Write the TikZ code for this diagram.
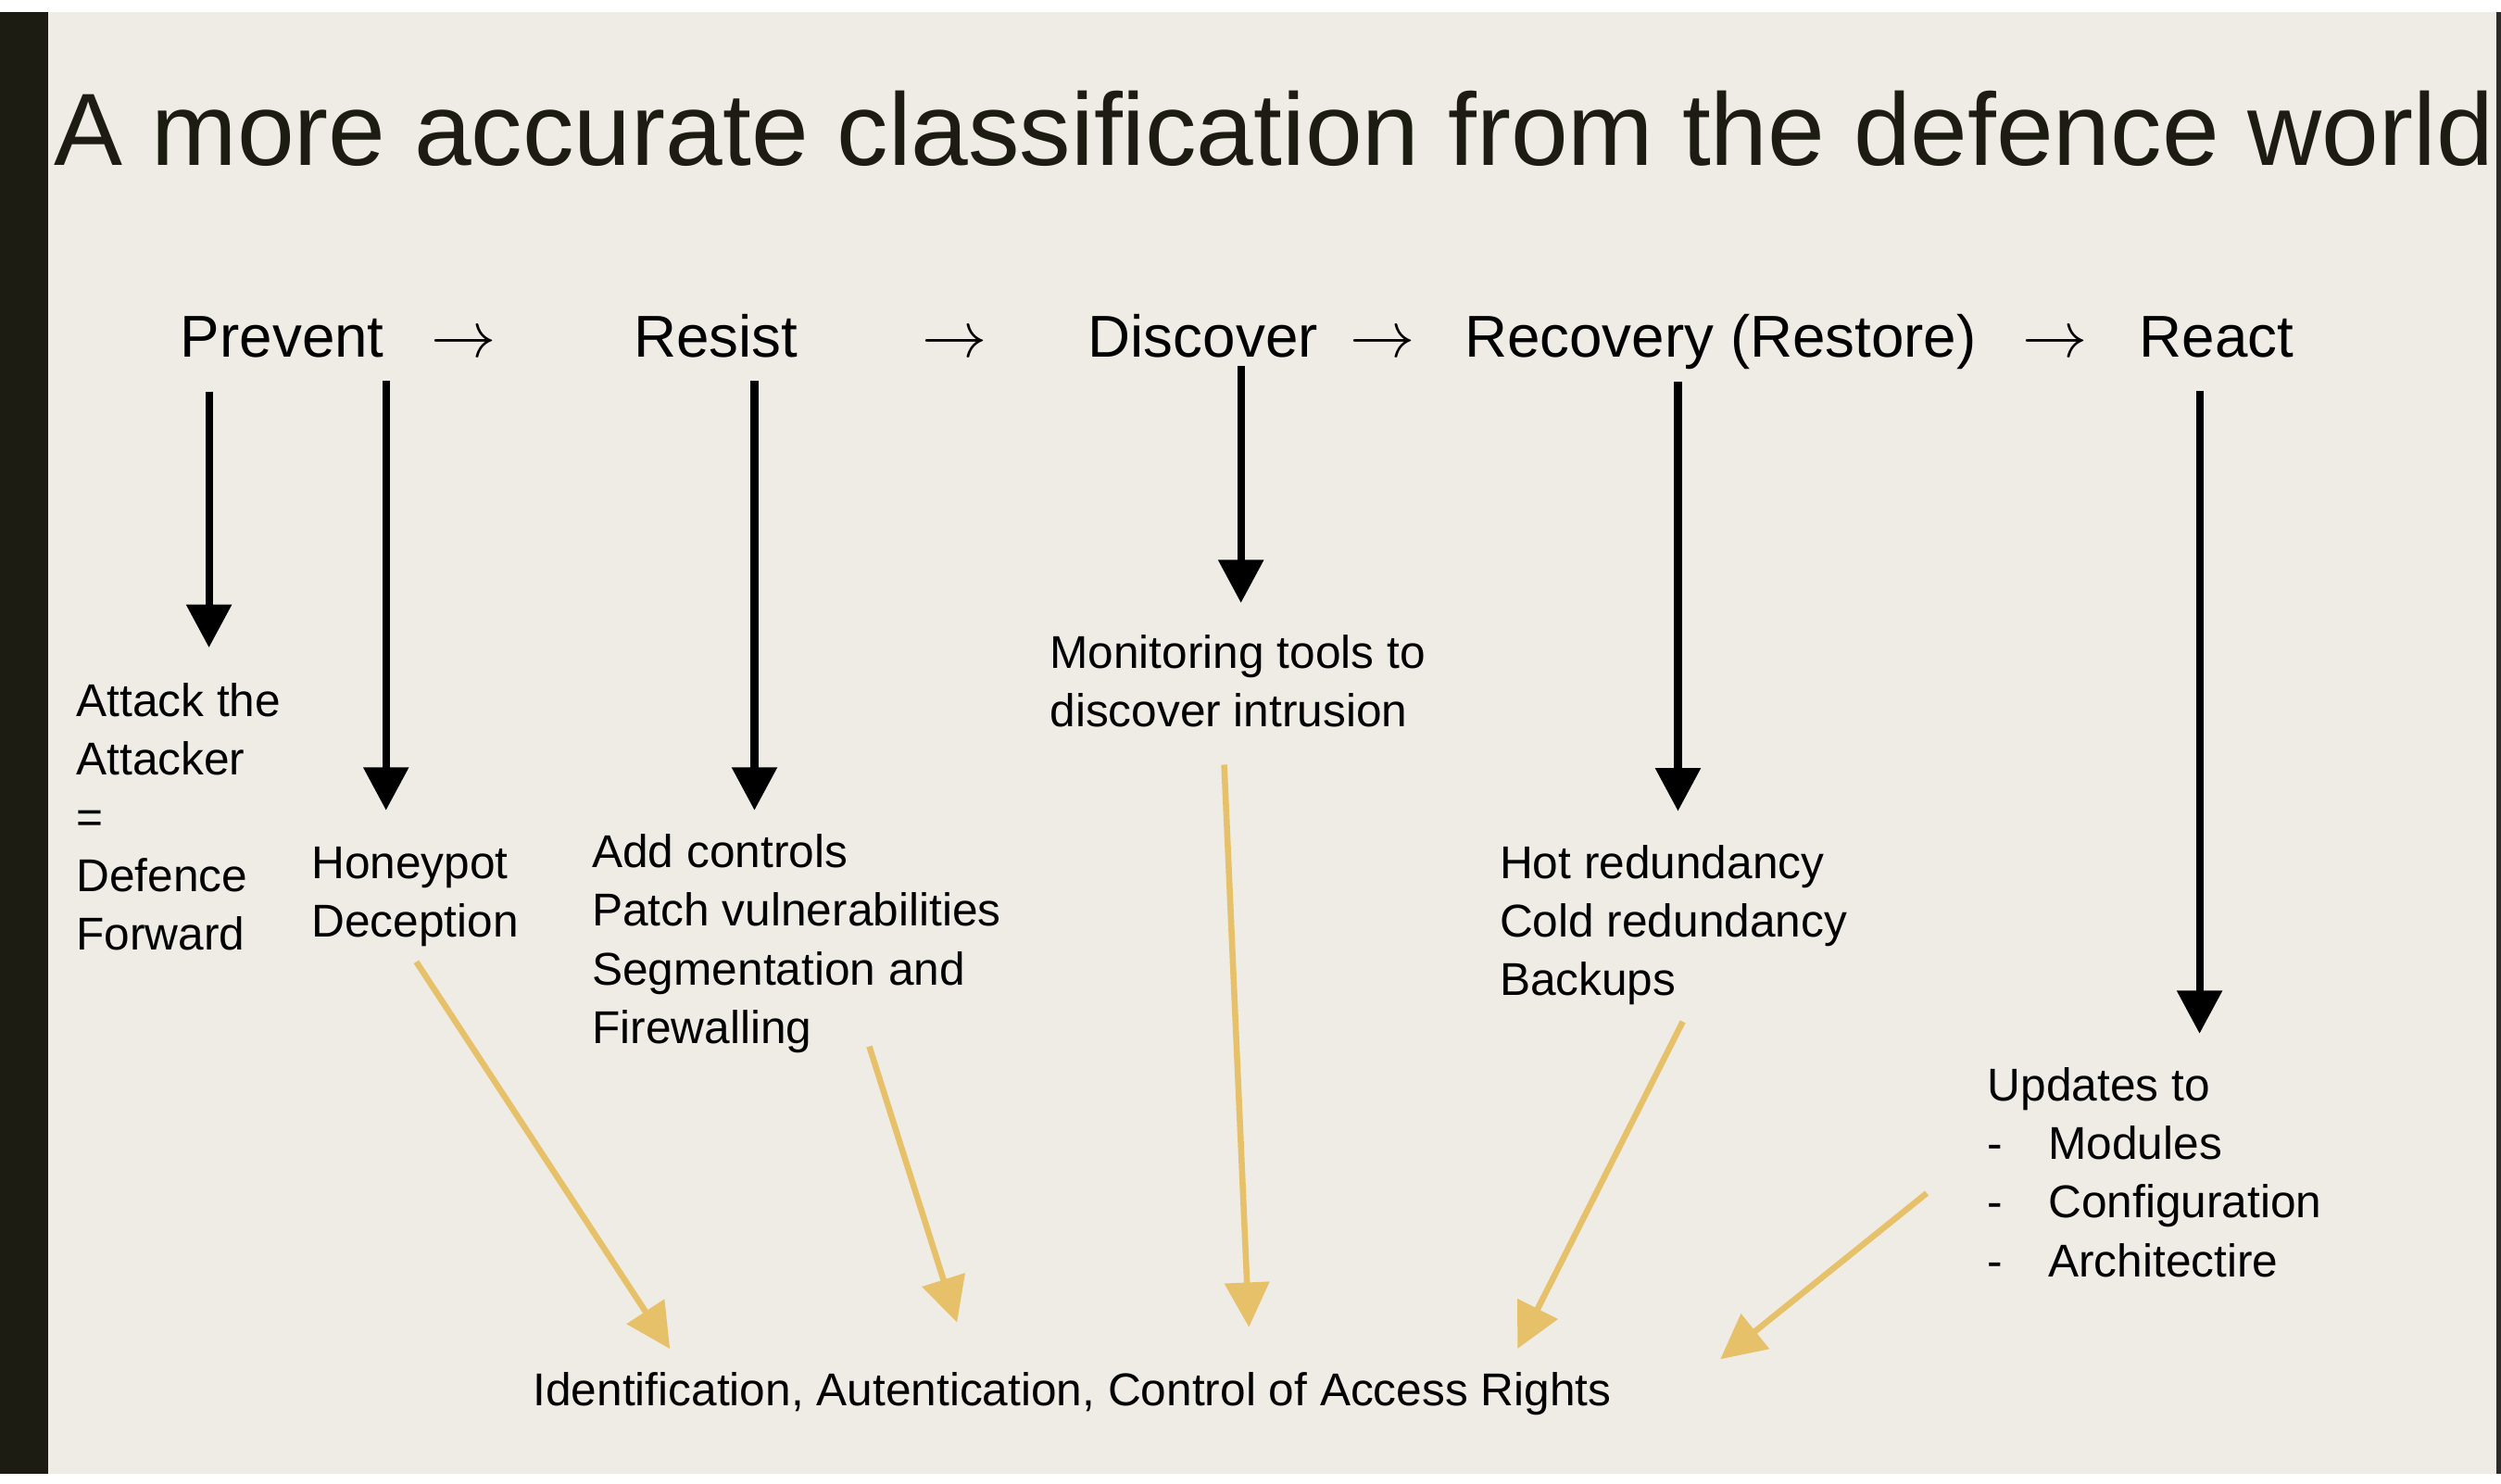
\documentclass[tikz,border=0pt]{standalone}
\usepackage{fontspec}
\setmainfont{Liberation Sans}
\usetikzlibrary{arrows.meta}
\definecolor{bgbeige}{HTML}{EEECE4}
\definecolor{barDark}{HTML}{1C1C12}
\definecolor{edgeDark}{HTML}{2B2B2B}
\definecolor{arrowGold}{HTML}{E6C169}
\newcommand{\lines}[1]{\begin{tabular}[t]{@{}l@{}}#1\end{tabular}}
\newcommand{\stepsym}{\scalebox{1.4}{$\rightarrow$}}
\tikzset{
  titletext/.style={font=\fontsize{55}{66}\selectfont, text=barDark, inner sep=0pt, anchor=base west},
  headtext/.style={font=\fontsize{31.6}{38}\selectfont, inner sep=0pt, anchor=base west},
  bodytext/.style={font=\fontsize{24.6}{31.3}\selectfont, inner sep=0pt, anchor=base west},
  blackarrow/.style={draw=black, line width=1.4mm, -{Triangle[width=8.25mm,length=8.1mm]}},
  goldarrow/.style={draw=arrowGold, line width=1.14mm, -{Triangle[width=8.25mm,length=8.4mm]}},
}
\begin{document}
\begin{tikzpicture}[x=0.3mm, y=-0.3mm]
  % page
  \useasboundingbox (0,0) rectangle (1568,930.3);
  \fill[white] (0,0) rectangle (1568,930.3);
  \fill[bgbeige] (0,7.4) rectangle (1565,923.8);
  \fill[barDark] (0,7.4) rectangle (30,923.8);
  \fill[edgeDark] (1565,7.4) rectangle (1568,923.8);

  % title
  \node[titletext] (title) at (34,103.6) {A more accurate classification from the defence world};

  % headers
  \node[headtext] (prevent) at (113,223.6) {Prevent};
  \node[headtext] (ar1) at (270,223.6) {\stepsym};
  \node[headtext] (resist) at (397,223.6) {Resist};
  \node[headtext] (ar2) at (578,223.6) {\stepsym};
  \node[headtext] (discover) at (682,223.6) {Discover};
  \node[headtext] (ar3) at (846,223.6) {\stepsym};
  \node[headtext] (recovery) at (918,223.6) {Recovery (Restore)};
  \node[headtext] (ar4) at (1268,223.6) {\stepsym};
  \node[headtext] (react) at (1341,223.6) {React};

  % body texts
  \node[bodytext] (attack) at (47.6,449) {\lines{Attack the\\Attacker\\=\\Defence\\Forward}};
  \node[bodytext] (honeypot) at (195,551) {\lines{Honeypot\\Deception}};
  \node[bodytext] (controls) at (371,544) {\lines{Add controls\\Patch vulnerabilities\\Segmentation and\\Firewalling}};
  \node[bodytext] (monitor) at (658,419) {\lines{Monitoring tools to\\discover intrusion}};
  \node[bodytext] (redund) at (940,550.6) {\lines{Hot redundancy\\Cold redundancy\\Backups}};
  \node[bodytext] (updates) at (1246,690.3) {\lines{Updates to\\\makebox[32.4pt][l]{-}Modules\\\makebox[32.4pt][l]{-}Configuration\\\makebox[32.4pt][l]{-}Architectire}};
  \node[bodytext] (access) at (334,881) {Identification, Autentication, Control of Access Rights};

  % black arrow end points
  \coordinate (b1s) at (131,245.6);   \coordinate (b1e) at (131,406);
  \coordinate (b2s) at (242,238.7);   \coordinate (b2e) at (242,508);
  \coordinate (b3s) at (473,238.7);   \coordinate (b3e) at (473,508);
  \coordinate (b4s) at (778,229.5);   \coordinate (b4e) at (778,378);
  \coordinate (b5s) at (1052,239.4);  \coordinate (b5e) at (1052,508.5);
  \coordinate (b6s) at (1379,245.3);  \coordinate (b6e) at (1379,648);

  \draw[blackarrow] (b1s) -- (b1e);
  \draw[blackarrow] (b2s) -- (b2e);
  \draw[blackarrow] (b3s) -- (b3e);
  \draw[blackarrow] (b4s) -- (b4e);
  \draw[blackarrow] (b5s) -- (b5e);
  \draw[blackarrow] (b6s) -- (b6e);

  % gold arrow end points
  \coordinate (g1s) at (261,603);    \coordinate (g1e) at (420,845.6);
  \coordinate (g2s) at (545,656);    \coordinate (g2e) at (600,829);
  \coordinate (g3s) at (767.5,479.4);\coordinate (g3e) at (783,832);
  \coordinate (g4s) at (1055,640.5); \coordinate (g4e) at (951.4,845.5);
  \coordinate (g5s) at (1208,748);   \coordinate (g5e) at (1078.6,852.1);

  \draw[goldarrow] (g1s) -- (g1e);
  \draw[goldarrow] (g2s) -- (g2e);
  \draw[goldarrow] (g3s) -- (g3e);
  \draw[goldarrow] (g4s) -- (g4e);
  \draw[goldarrow] (g5s) -- (g5e);
\end{tikzpicture}
\end{document}
